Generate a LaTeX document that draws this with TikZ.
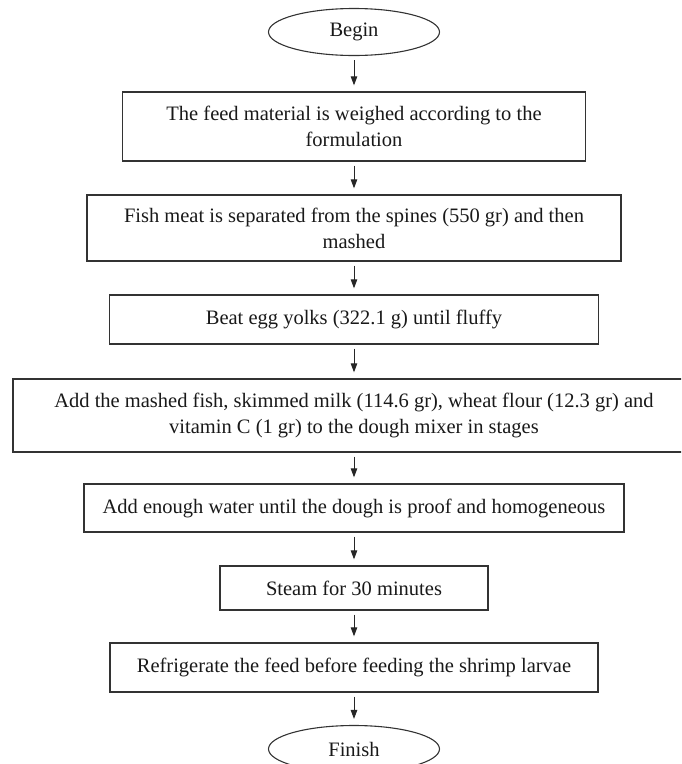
\documentclass[tikz,border=0pt]{standalone}
\usepackage{fontspec}
\setmainfont{Liberation Serif}
\usetikzlibrary{arrows.meta,shapes.geometric}
\begin{document}
\begin{tikzpicture}[x=1pt,y=-1pt,
  txt/.style={font=\fontsize{20.5}{26}\selectfont, text=black!90},
  box/.style={txt, draw=black!80, line width=1.3pt, rectangle, inner sep=0pt, align=center},
  term/.style={txt, draw=black!80, line width=1.1pt, ellipse, inner sep=0pt, minimum width=171pt, minimum height=47pt},
  arr/.style={draw=black!85, line width=1pt, -{Triangle[width=6.5pt,length=9pt]}, shorten <=4pt, shorten >=6pt}]
\useasboundingbox (0,0) rectangle (681,764);
\clip (0,0) rectangle (681,764);
\node[term] (begin) at (354,32) {Begin};
\node[box, minimum width=463pt, minimum height=69pt] (b1) at (354,126.5) {The feed material is weighed according to the\\formulation};
\node[box, minimum width=534pt, minimum height=66pt] (b2) at (354,228) {Fish meat is separated from the spines (550 gr) and then\\mashed};
\node[box, minimum width=489pt, minimum height=49pt] (b3) at (354,319.5) {Beat egg yolks (322.1 g) until fluffy};
\node[box, minimum width=682pt, minimum height=73pt] (b4) at (354,415.5) {Add the mashed fish, skimmed milk (114.6 gr), wheat flour (12.3 gr) and\\vitamin C (1 gr) to the dough mixer in stages};
\node[box, minimum width=540pt, minimum height=48pt] (b5) at (354,508) {Add enough water until the dough is proof and homogeneous};
\node[box, minimum width=268pt, minimum height=44pt] (b6) at (354,588) {Steam for 30 minutes};
\node[box, minimum width=488pt, minimum height=49pt] (b7) at (354,667.5) {Refrigerate the feed before feeding the shrimp larvae};
\node[term] (finish) at (354,749) {Finish};
\draw[arr] (begin.south) -- (b1.north);
\draw[arr] (b1.south) -- (b2.north);
\draw[arr] (b2.south) -- (b3.north);
\draw[arr] (b3.south) -- (b4.north);
\draw[arr] (b4.south) -- (b5.north);
\draw[arr] (b5.south) -- (b6.north);
\draw[arr] (b6.south) -- (b7.north);
\draw[arr] (b7.south) -- (finish.north);
\end{tikzpicture}
\end{document}
